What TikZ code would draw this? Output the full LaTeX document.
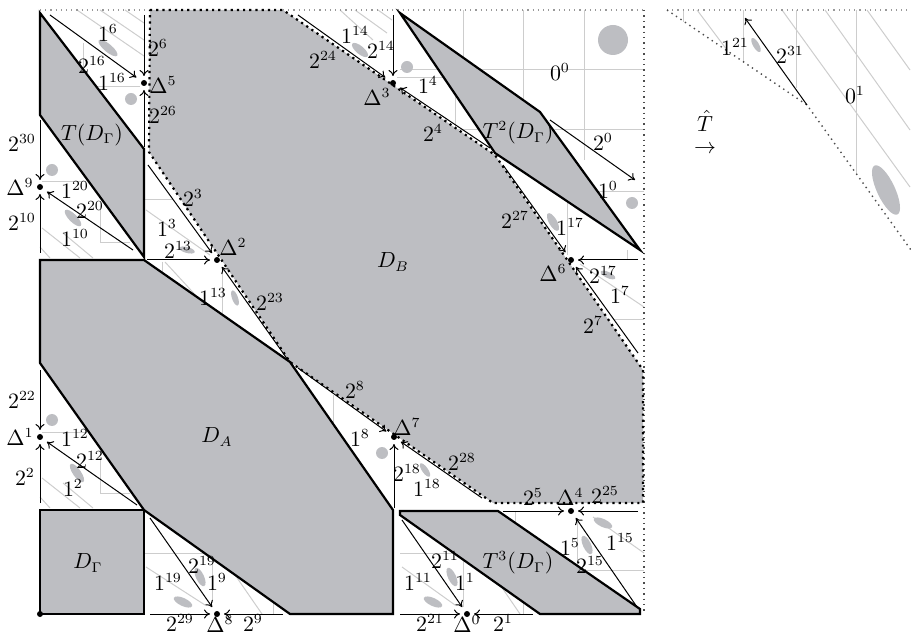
\documentclass[tikz,border=0pt]{standalone}
\usetikzlibrary{arrows.meta,shapes.geometric}
\definecolor{rg}{RGB}{189,190,194}
\definecolor{lgc}{RGB}{205,205,205}
\tikzset{
  region/.style={fill=rg,draw=black,line width=1.1pt,line join=miter},
  bfill/.style={fill=rg},
  bedge/.style={draw=black,line width=1.1pt,dotted},
  arr/.style={draw=black,line width=0.5pt,-{To[length=3pt,width=4.5pt]},shorten >=1.8pt},
  gl/.style={draw=lgc,line width=0.5pt},
  dotpt/.style={circle,fill=black,inner sep=0pt,minimum size=3pt},
  lab/.style={inner sep=0pt},
  blob/.style={ellipse,fill=rg,inner sep=0pt},
  frame/.style={draw=black!40,dotted,line width=0.6pt},
}
\begin{document}
\begin{tikzpicture}[x=0.5pt,y=-0.5pt,font=\fontsize{10.5}{12}\selectfont]
\useasboundingbox (0,0) rectangle (911,636);
% ---------- light grey partition lines ----------
\draw[gl] (77,10) -- (144,56);
\draw[gl] (100,10) -- (144,40);
\draw[gl] (125,10) -- (144,23);
\draw[gl] (83,43) -- (83,70);
\draw[gl] (97,87) -- (140,87);
\draw[gl] (42,182) -- (85,182);
\draw[gl] (100,210) -- (100,243) -- (130,243);
\draw[gl] (42,228) -- (80,258);
\draw[gl] (63,233) -- (93,258);
\draw[gl] (40,247) -- (50,258);
\draw[gl] (42,433) -- (85,433);
\draw[gl] (100,457) -- (100,493) -- (130,493);
\draw[gl] (42,478) -- (80,508);
\draw[gl] (63,483) -- (93,508);
\draw[gl] (40,497) -- (50,508);
\draw[gl] (145,200) -- (173,200);
\draw[gl] (146,210) -- (210,255);
\draw[gl] (162,262) -- (162,272);
\draw[gl] (165,262) -- (200,300);
\draw[gl] (222,272) -- (222,313);
\draw[gl] (333,395) -- (333,427);
\draw[gl] (340,10) -- (373,40);
\draw[gl] (355,10) -- (387,33);
\draw[gl] (378,10) -- (392,20);
\draw[gl] (397,78) -- (455,78) -- (455,160);
\draw[gl] (400,70) -- (644,70);
\draw[gl] (455,130) -- (644,130);
\draw[gl] (463,10) -- (463,70);
\draw[gl] (523,10) -- (523,160);
\draw[gl] (584,10) -- (584,160);
\draw[gl] (567,150) -- (567,255);
\draw[gl] (567,192) -- (644,192);
\draw[gl] (627,250) -- (627,260);
\draw[gl] (580,264) -- (644,307);
\draw[gl] (613,320) -- (644,320);
\draw[gl] (145,553) -- (212,553) -- (212,603);
\draw[gl] (146,567) -- (205,605);
\draw[gl] (233,572) -- (262,614);
\draw[gl] (273,603) -- (273,614);
\draw[gl] (400,553) -- (463,553) -- (463,607);
\draw[gl] (402,567) -- (455,605);
\draw[gl] (490,570) -- (520,614);
\draw[gl] (523,600) -- (523,614);
\draw[gl] (515,511) -- (515,527);
\draw[gl] (593,517) -- (644,553);
\draw[gl] (577,518) -- (577,570) -- (644,570);
% right panel light lines
\draw[gl] (683,10) -- (683,22);
\draw[gl] (743,10) -- (743,63);
\draw[gl] (796,10) -- (796,88);
\draw[gl] (856,10) -- (856,175);
\draw[gl] (697,10) -- (727,50);
\draw[gl] (782,10) -- (910,187);
\draw[gl] (825,10) -- (910,130);
\draw[gl] (867,10) -- (910,70);
% ---------- frame ----------
\draw[frame] (40,10) -- (150,10);
\draw[frame] (283,10) -- (644,10);
\draw[draw=black!70,dotted,line width=0.7pt] (644,10) -- (644,614);
\draw[frame] (667,10) -- (911,10);
\draw[draw=black!70,dotted,line width=0.7pt] (667,10) -- (807,105) -- (911,250);
% ---------- regions ----------
\path[bfill] (150,10) -- (283,10) -- (495,155) -- (643,370) -- (643,503) -- (493,503) -- (290,362) -- (149,152) -- cycle;
\draw[bedge] (150,10) -- (283,10) -- (495,155) -- (643,370) -- (643,503) -- (493,503) -- (290,362) -- (149,152) -- cycle;
\draw[region] (40,260) -- (144,260) -- (290,362) -- (393,510) -- (393,614) -- (290,614) -- (144,510) -- (40,363) -- cycle;
\draw[region] (40,510) rectangle (144,614);
\draw[region] (40,13) -- (144,149) -- (144,257) -- (40,115) -- cycle;
\draw[region] (400,13) -- (540,112) -- (640,250) -- (495,153) -- cycle;
\draw[region] (400,511) -- (498,511) -- (640,609) -- (640,614) -- (540,614) -- (400,515) -- cycle;
% ---------- blobs ----------
\node[blob,minimum width=6pt,minimum height=6pt] (b1) at (131,99) {};
\node[blob,minimum width=12pt,minimum height=4pt,rotate=-40] (b2) at (108,48) {};
\node[blob,minimum width=6pt,minimum height=6pt] (b3) at (52,170) {};
\node[blob,minimum width=11pt,minimum height=4pt,rotate=-45] (b4) at (73,218) {};
\node[blob,minimum width=8pt,minimum height=3pt,rotate=-15] (b5) at (187,250) {};
\node[blob,minimum width=8pt,minimum height=3pt,rotate=-70] (b6) at (235,298) {};
\node[blob,minimum width=10pt,minimum height=4pt,rotate=-40] (b7) at (360,50) {};
\node[blob,minimum width=6pt,minimum height=6pt] (b8) at (407,67) {};
\node[blob,minimum width=15pt,minimum height=15pt] (b9) at (613,40) {};
\node[blob,minimum width=6pt,minimum height=6pt] (b10) at (632,203) {};
\node[blob,minimum width=10pt,minimum height=4pt,rotate=-60] (b11) at (553,222) {};
\node[blob,minimum width=8pt,minimum height=3pt,rotate=-25] (b12) at (608,275) {};
\node[blob,minimum width=6pt,minimum height=6pt] (b13) at (52,420) {};
\node[blob,minimum width=11pt,minimum height=4pt,rotate=-55] (b14) at (77,473) {};
\node[blob,minimum width=6pt,minimum height=6pt] (b15) at (382,453) {};
\node[blob,minimum width=8pt,minimum height=3pt,rotate=-55] (b16) at (425,470) {};
\node[blob,minimum width=10pt,minimum height=4pt,rotate=-65] (b17) at (200,577) {};
\node[blob,minimum width=10pt,minimum height=4pt,rotate=-25] (b18) at (183,602) {};
\node[blob,minimum width=10pt,minimum height=4pt,rotate=-65] (b19) at (452,577) {};
\node[blob,minimum width=10pt,minimum height=4pt,rotate=-25] (b20) at (433,602) {};
\node[blob,minimum width=10pt,minimum height=4pt,rotate=-65] (b21) at (587,545) {};
\node[blob,minimum width=10pt,minimum height=4pt,rotate=-25] (b22) at (603,523) {};
\node[blob,minimum width=8pt,minimum height=3pt,rotate=-60] (b23) at (756,45) {};
\node[blob,minimum width=27pt,minimum height=9pt,rotate=-65] (b24) at (886,190) {};
% ---------- Delta points ----------
\node[dotpt] (d0) at (467,614) {};
\node[dotpt] (d1) at (40,437) {};
\node[dotpt] (d2) at (217,260) {};
\node[dotpt] (d3) at (393,83) {};
\node[dotpt] (d4) at (571,511) {};
\node[dotpt] (d5) at (144,83) {};
\node[dotpt] (d6) at (571,260) {};
\node[dotpt] (d7) at (394,437) {};
\node[dotpt] (d8) at (217,614) {};
\node[dotpt] (d9) at (40,187) {};
\node[dotpt] (dz) at (40,614) {};
% ---------- arrow tails ----------
\coordinate (s6) at (144,15);
\coordinate (s26) at (144,147);
\coordinate (s16) at (50,15);
\coordinate (s14) at (393,15);
\coordinate (s24) at (298,15);
\coordinate (s4) at (490,148);
\coordinate (s0) at (550,120);
\coordinate (e0) at (635,180);
\coordinate (s27) at (503,165);
\coordinate (s17) at (638,260);
\coordinate (s7) at (638,353);
\coordinate (s30) at (40,120);
\coordinate (s10) at (40,253);
\coordinate (s20) at (133,250);
\coordinate (s3) at (148,165);
\coordinate (s13) at (147,260);
\coordinate (s23) at (288,360);
\coordinate (s8) at (298,368);
\coordinate (s28) at (482,498);
\coordinate (s18) at (394,508);
\coordinate (s22) at (40,370);
\coordinate (s2) at (40,503);
\coordinate (s12) at (137,505);
\coordinate (s19) at (150,518);
\coordinate (s29) at (150,614);
\coordinate (s9) at (283,614);
\coordinate (s11) at (402,520);
\coordinate (s21) at (400,614);
\coordinate (s1) at (533,614);
\coordinate (s5) at (503,511);
\coordinate (s25) at (638,511);
\coordinate (s15) at (637,607);
\coordinate (s31) at (807,105);
\coordinate (e31) at (745,18);
% ---------- arrows ----------
\draw[arr] (s6) -- (d5);
\draw[arr] (s26) -- (d5);
\draw[arr,shorten >=3pt] (s16) -- (d5);
\draw[arr] (s14) -- (d3);
\draw[arr,shorten >=3pt] (s24) -- (d3);
\draw[arr,shorten >=2.5pt] (s4) -- (d3);
\draw[arr,shorten >=0pt] (s0) -- (e0);
\draw[arr,shorten >=3pt] (s27) -- (d6);
\draw[arr] (s17) -- (d6);
\draw[arr,shorten >=2.5pt] (s7) -- (d6);
\draw[arr] (s30) -- (d9);
\draw[arr] (s10) -- (d9);
\draw[arr,shorten >=2.5pt] (s20) -- (d9);
\draw[arr,shorten >=2.5pt] (s3) -- (d2);
\draw[arr] (s13) -- (d2);
\draw[arr,shorten >=2.5pt] (s23) -- (d2);
\draw[arr,shorten >=3pt] (s8) -- (d7);
\draw[arr,shorten >=2.5pt] (s28) -- (d7);
\draw[arr] (s18) -- (d7);
\draw[arr] (s22) -- (d1);
\draw[arr] (s2) -- (d1);
\draw[arr,shorten >=2.5pt] (s12) -- (d1);
\draw[arr,shorten >=2.5pt] (s19) -- (d8);
\draw[arr] (s29) -- (d8);
\draw[arr] (s9) -- (d8);
\draw[arr,shorten >=2.5pt] (s11) -- (d0);
\draw[arr] (s21) -- (d0);
\draw[arr] (s1) -- (d0);
\draw[arr] (s5) -- (d4);
\draw[arr] (s25) -- (d4);
\draw[arr,shorten >=2.5pt] (s15) -- (d4);
\draw[arr,shorten >=0pt] (s31) -- (e31);
% ---------- labels ----------
\node[lab] (n1) at (108,33) {$1^{6}$};
\node[lab] (n2) at (158,48) {$2^{6}$};
\node[lab] (n3) at (92,65) {$2^{16}$};
\node[lab] (n4) at (112,82) {$1^{16}$};
\node[lab] (n5) at (163,85) {$\Delta^{5}$};
\node[lab] (n6) at (163,115) {$2^{26}$};
\node[lab] (n7) at (92,135) {$T(D_\Gamma)$};
\node[lab] (n8) at (22,143) {$2^{30}$};
\node[lab] (n9) at (20,187) {$\Delta^{9}$};
\node[lab] (n10) at (75,190) {$1^{20}$};
\node[lab] (n11) at (90,210) {$2^{20}$};
\node[lab] (n12) at (22,222) {$2^{10}$};
\node[lab] (n13) at (75,238) {$1^{10}$};
\node[lab] (n14) at (193,198) {$2^{3}$};
\node[lab] (n15) at (167,228) {$1^{3}$};
\node[lab] (n16) at (178,250) {$2^{13}$};
\node[lab] (n17) at (233,247) {$\Delta^{2}$};
\node[lab] (n18) at (213,297) {$1^{13}$};
\node[lab] (n19) at (270,302) {$2^{23}$};
\node[lab] (n20) at (393,262) {$D_B$};
\node[lab] (n21) at (355,35) {$1^{14}$};
\node[lab] (n22) at (381,50) {$2^{14}$};
\node[lab] (n23) at (323,60) {$2^{24}$};
\node[lab] (n24) at (377,97) {$\Delta^{3}$};
\node[lab] (n25) at (428,85) {$1^{4}$};
\node[lab] (n26) at (560,72) {$0^{0}$};
\node[lab] (n27) at (433,133) {$2^{4}$};
\node[lab] (n28) at (518,133) {$T^2(D_\Gamma)$};
\node[lab] (n29) at (603,142) {$2^{0}$};
\node[lab] (n30) at (608,190) {$1^{0}$};
\node[lab] (n31) at (515,220) {$2^{27}$};
\node[lab] (n32) at (570,227) {$1^{17}$};
\node[lab] (n33) at (553,273) {$\Delta^{6}$};
\node[lab] (n34) at (603,275) {$2^{17}$};
\node[lab] (n35) at (620,295) {$1^{7}$};
\node[lab] (n36) at (593,325) {$2^{7}$};
\node[lab] (n37) at (217,437) {$D_A$};
\node[lab] (n38) at (355,390) {$2^{8}$};
\node[lab] (n39) at (360,438) {$1^{8}$};
\node[lab] (n40) at (407,427) {$\Delta^{7}$};
\node[lab] (n41) at (22,400) {$2^{22}$};
\node[lab] (n42) at (20,437) {$\Delta^{1}$};
\node[lab] (n43) at (75,438) {$1^{12}$};
\node[lab] (n44) at (90,460) {$2^{12}$};
\node[lab] (n45) at (25,477) {$2^{2}$};
\node[lab] (n46) at (73,488) {$1^{2}$};
\node[lab] (n47) at (407,473) {$2^{18}$};
\node[lab] (n48) at (427,488) {$1^{18}$};
\node[lab] (n49) at (462,462) {$2^{28}$};
\node[lab] (n50) at (533,497) {$2^{5}$};
\node[lab] (n51) at (570,497) {$\Delta^{4}$};
\node[lab] (n52) at (605,495) {$2^{25}$};
\node[lab] (n53) at (88,563) {$D_\Gamma$};
\node[lab] (n54) at (202,565) {$2^{19}$};
\node[lab] (n55) at (168,582) {$1^{19}$};
\node[lab] (n56) at (217,582) {$1^{9}$};
\node[lab] (n57) at (180,623) {$2^{29}$};
\node[lab] (n58) at (220,624) {$\Delta^{8}$};
\node[lab] (n59) at (253,623) {$2^{9}$};
\node[lab] (n60) at (518,563) {$T^3(D_\Gamma)$};
\node[lab] (n61) at (445,560) {$2^{11}$};
\node[lab] (n62) at (418,582) {$1^{11}$};
\node[lab] (n63) at (465,582) {$1^{1}$};
\node[lab] (n64) at (570,547) {$1^{5}$};
\node[lab] (n65) at (620,542) {$1^{15}$};
\node[lab] (n66) at (590,565) {$2^{15}$};
\node[lab] (n67) at (430,623) {$2^{21}$};
\node[lab] (n68) at (467,624) {$\Delta^{0}$};
\node[lab] (n69) at (503,623) {$2^{1}$};
\node[lab] (n70) at (735,47) {$1^{21}$};
\node[lab] (n71) at (790,55) {$2^{31}$};
\node[lab] (n72) at (855,95) {$0^{1}$};
\node[lab,align=center] (n73) at (705,132) {$\hat{T}$\\[-1pt]$\rightarrow$};
\end{tikzpicture}
\end{document}
